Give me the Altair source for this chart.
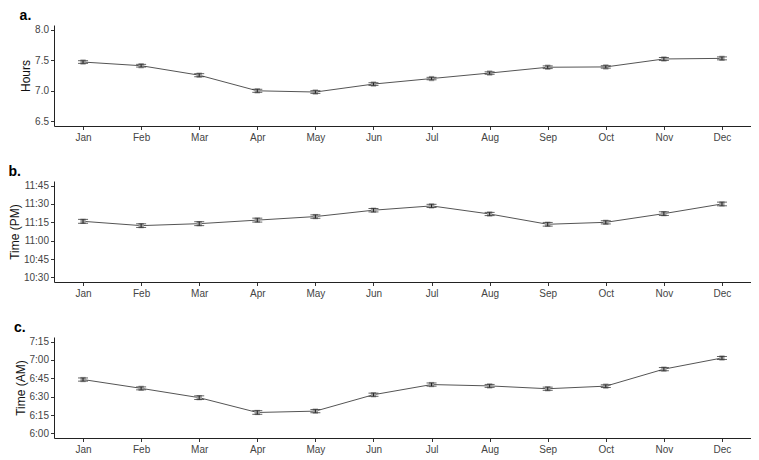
import altair as alt
import pandas as pd

months = ["Jan", "Feb", "Mar", "Apr", "May", "Jun", "Jul", "Aug", "Sep", "Oct", "Nov", "Dec"]

# a. sleep duration (hours)
a_hours = [7.47, 7.41, 7.255, 7.00, 6.98, 7.11, 7.20, 7.29, 7.385, 7.39, 7.52, 7.53]
a_err = [0.022, 0.022, 0.025, 0.025, 0.022, 0.022, 0.02, 0.02, 0.022, 0.02, 0.024, 0.024]

# b. bedtime, minutes past 11 PM
b_min = [15.8, 12.3, 13.9, 16.8, 19.7, 24.9, 28.4, 21.8, 13.4, 15.0, 22.1, 30.0]
b_err = [1.6, 1.5, 1.6, 1.6, 1.4, 1.4, 1.3, 1.3, 1.5, 1.3, 1.5, 1.5]

# c. wake time, minutes past 6 AM
c_min = [44.0, 36.8, 29.2, 17.1, 18.2, 31.6, 39.9, 38.8, 36.5, 38.6, 52.5, 61.6]
c_err = [1.3, 1.2, 1.5, 1.5, 1.3, 1.3, 1.3, 1.2, 1.3, 1.1, 1.3, 1.2]

FONT = "Liberation Sans"
W = 697
H = 101


def frame(vals, errs):
    return pd.DataFrame({
        "month": months,
        "value": vals,
        "lo": [v - e for v, e in zip(vals, errs)],
        "hi": [v + e for v, e in zip(vals, errs)],
    })


df_a = frame(a_hours, a_err)
df_b = frame([23 + m / 60 for m in b_min], [e / 60 for e in b_err])
df_c = frame([6 + m / 60 for m in c_min], [e / 60 for e in c_err])

clock_expr = ("(floor(datum.value) % 12 == 0 ? 12 : floor(datum.value) % 12) + ':' + "
              "pad(round((datum.value % 1) * 60), 2, '0', 'left')")


def panel(df, title, ytitle, domain, ticks, label_expr=None, fmt=None):
    axis_kw = dict(values=ticks, title=ytitle, labelOverlap=False, tickCount=len(ticks))
    if label_expr:
        axis_kw["labelExpr"] = label_expr
    if fmt:
        axis_kw["format"] = fmt
    yaxis = alt.Axis(**axis_kw)
    yscale = alt.Scale(domain=domain, nice=False, zero=False)

    def Y(field):
        return alt.Y(field, type="quantitative", scale=yscale, axis=yaxis, title=ytitle)

    base = alt.Chart(df).encode(
        x=alt.X("month:N", sort=months, title=None,
                scale=alt.Scale(type="point", padding=0.5),
                axis=alt.Axis(labelAngle=0, labelOverlap=False))
    )
    line = base.mark_line(color="#555555", strokeWidth=1).encode(y=Y("value"))
    pts = base.mark_point(shape="square", filled=True, color="#a0a0a0", size=28, opacity=1).encode(
        y=Y("value")
    )
    rule = base.mark_rule(color="#222222", strokeWidth=1).encode(y=Y("lo"), y2="hi:Q")
    cap_lo = base.mark_tick(color="#222222", thickness=1, size=10).encode(y=Y("lo"))
    cap_hi = base.mark_tick(color="#222222", thickness=1, size=10).encode(y=Y("hi"))
    return alt.layer(line, pts, rule, cap_lo, cap_hi).properties(
        width=W, height=H,
        title=alt.TitleParams(title, anchor="start", fontSize=14, fontWeight="bold",
                              font=FONT, color="black", offset=2),
    )


pa = panel(df_a, "a.", "Hours", [6.425, 8.075], [6.5, 7.0, 7.5, 8.0], fmt=".1f")
pb = panel(df_b, "b.", "Time (PM)", [22.4375, 23.8125],
           [22.5, 22.75, 23.0, 23.25, 23.5, 23.75], label_expr=clock_expr)
pc = panel(df_c, "c.", "Time (AM)", [5.9375, 7.3125],
           [6.0, 6.25, 6.5, 6.75, 7.0, 7.25], label_expr=clock_expr)

chart = alt.vconcat(pa, pb, pc, spacing=21).properties(
    padding={"left": 0, "right": 0, "top": 0, "bottom": 0}
).configure_view(stroke=None).configure_axis(
    grid=False,
    labelOverlap=False,
    domainColor="#222222",
    domainWidth=1,
    tickColor="#333333",
    tickSize=3.5,
    tickWidth=1,
    labelFont=FONT,
    labelFontSize=10,
    labelColor="#444444",
    labelPadding=2,
    titleFont=FONT,
    titleFontSize=12,
    titleFontWeight="normal",
    titleColor="#111111",
    titlePadding=2,
).configure_axisX(labelPadding=3)

chart.save("out.html", embed_options={"renderer": "svg", "actions": False})
